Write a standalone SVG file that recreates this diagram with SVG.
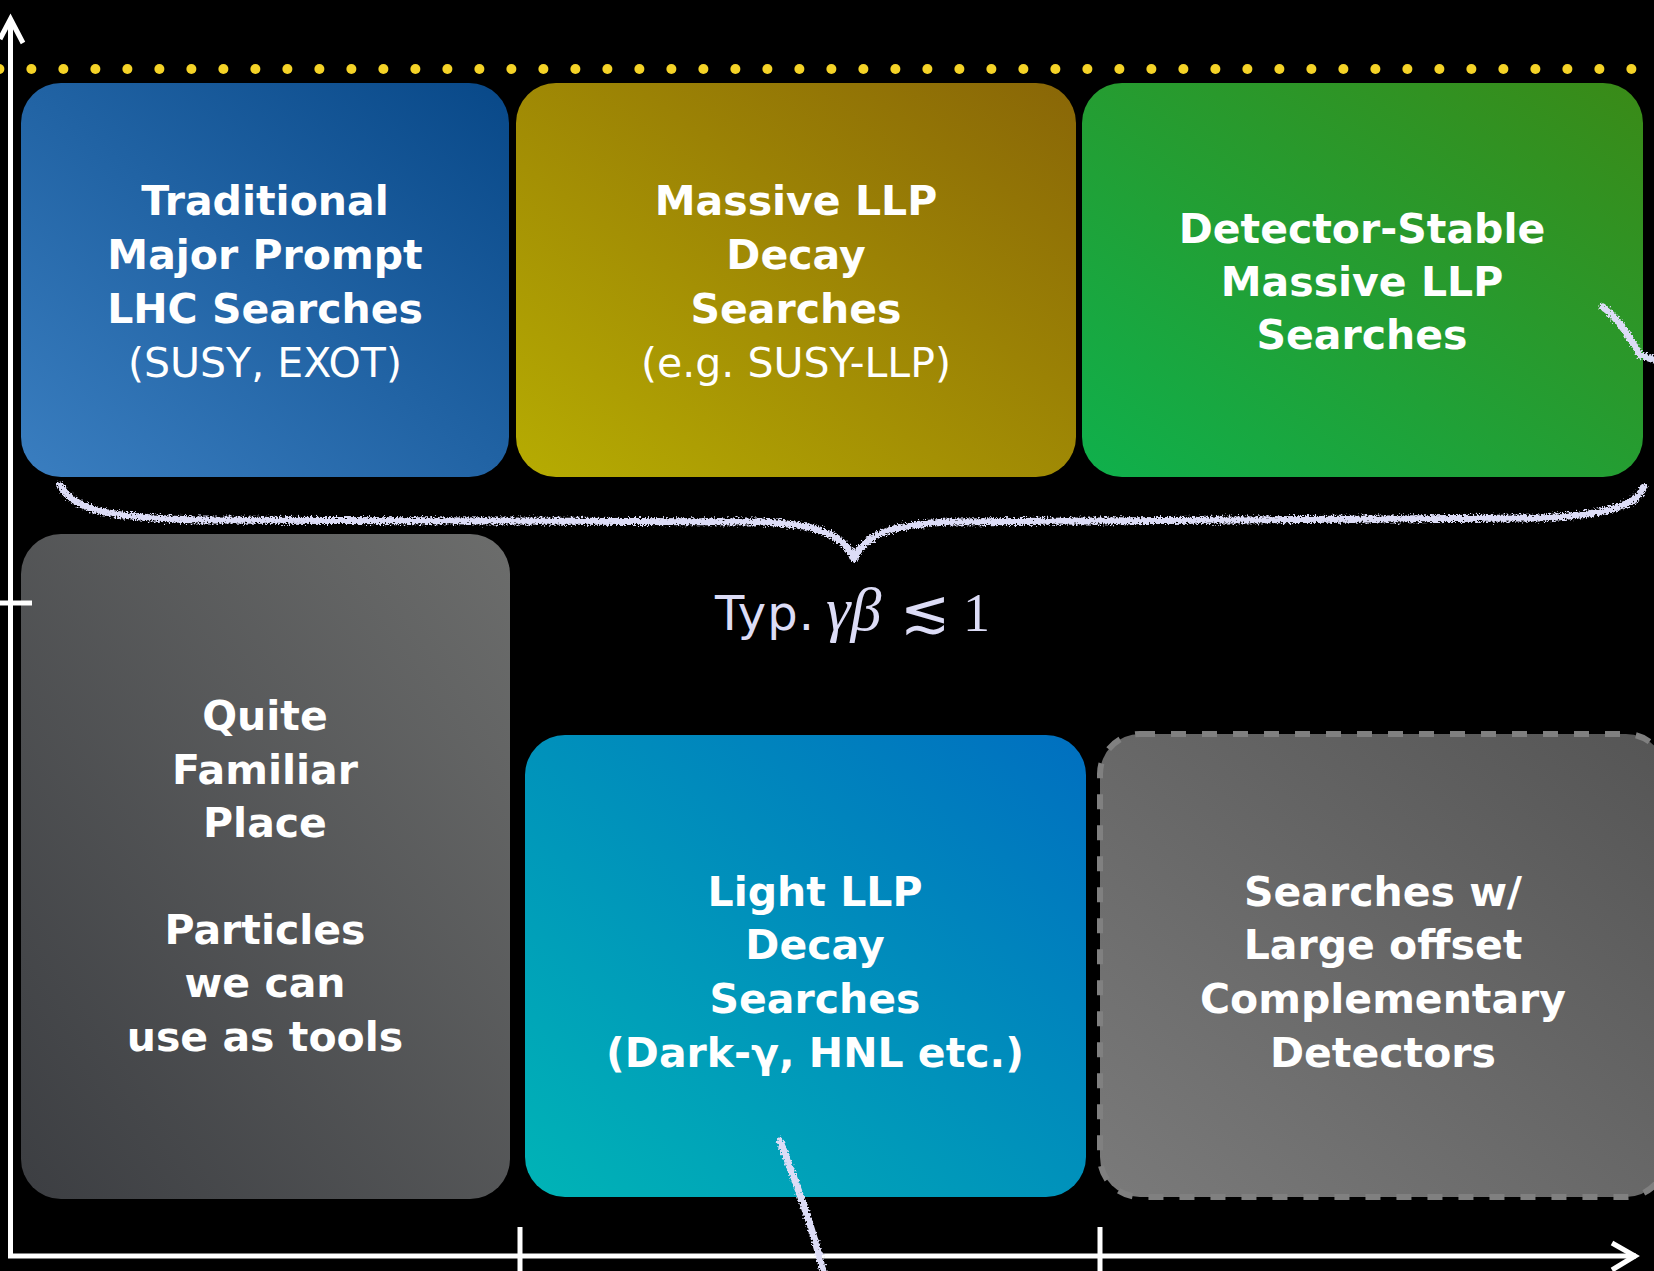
<svg xmlns="http://www.w3.org/2000/svg" width="1654" height="1271" viewBox="0 0 1654 1271">
<defs>
<linearGradient id="g1" x1="0" y1="1" x2="1" y2="0"><stop offset="0" stop-color="#3a7ec0"/><stop offset="1" stop-color="#084888"/></linearGradient>
<linearGradient id="g2" x1="0" y1="1" x2="1" y2="0"><stop offset="0" stop-color="#b6ac02"/><stop offset="1" stop-color="#896607"/></linearGradient>
<linearGradient id="g3" x1="0" y1="1" x2="1" y2="0"><stop offset="0" stop-color="#0fb04c"/><stop offset="1" stop-color="#3a8a17"/></linearGradient>
<linearGradient id="g4" x1="0" y1="1" x2="1" y2="0"><stop offset="0" stop-color="#3c3e42"/><stop offset="1" stop-color="#6c6d6c"/></linearGradient>
<linearGradient id="g5" x1="0" y1="1" x2="1" y2="0"><stop offset="0" stop-color="#00b4b6"/><stop offset="1" stop-color="#006fc0"/></linearGradient>
<linearGradient id="g6" x1="0" y1="1" x2="1" y2="0"><stop offset="0" stop-color="#7a7a7a"/><stop offset="1" stop-color="#555555"/></linearGradient>
<filter id="rough" x="-5%" y="-50%" width="110%" height="200%">
<feTurbulence type="fractalNoise" baseFrequency="0.55" numOctaves="2" seed="3" result="n"/>
<feDisplacementMap in="SourceGraphic" in2="n" scale="8" xChannelSelector="R" yChannelSelector="G"/>
</filter>
<filter id="rough2" x="-50%" y="-10%" width="200%" height="120%">
<feTurbulence type="fractalNoise" baseFrequency="0.5" numOctaves="2" seed="7" result="n"/>
<feDisplacementMap in="SourceGraphic" in2="n" scale="7" xChannelSelector="R" yChannelSelector="G"/>
</filter>
<style>
.b{font-family:"DejaVu Sans",Verdana,sans-serif;font-weight:bold;font-size:41px;fill:#ffffff;text-anchor:middle}
.r{font-family:"DejaVu Sans",Verdana,sans-serif;font-weight:normal;font-size:41px;fill:#ffffff;text-anchor:middle}
.ax{stroke:#ffffff;stroke-width:5;fill:none}
.chalk{stroke:#dcdcf6;stroke-width:7;fill:none;stroke-linecap:round;stroke-linejoin:round}
.math{fill:#dcdcf6}
</style>
</defs>
<rect x="0" y="0" width="1654" height="1271" fill="#000000"/>

<g id="dots" fill="#f5d327">
<circle cx="-0.6" cy="69" r="5"/><circle cx="31.4" cy="69" r="5"/><circle cx="63.4" cy="69" r="5"/><circle cx="95.4" cy="69" r="5"/><circle cx="127.4" cy="69" r="5"/><circle cx="159.4" cy="69" r="5"/><circle cx="191.4" cy="69" r="5"/><circle cx="223.4" cy="69" r="5"/><circle cx="255.4" cy="69" r="5"/><circle cx="287.4" cy="69" r="5"/><circle cx="319.4" cy="69" r="5"/><circle cx="351.4" cy="69" r="5"/><circle cx="383.4" cy="69" r="5"/><circle cx="415.4" cy="69" r="5"/><circle cx="447.4" cy="69" r="5"/><circle cx="479.4" cy="69" r="5"/><circle cx="511.4" cy="69" r="5"/><circle cx="543.4" cy="69" r="5"/><circle cx="575.4" cy="69" r="5"/><circle cx="607.4" cy="69" r="5"/><circle cx="639.4" cy="69" r="5"/><circle cx="671.4" cy="69" r="5"/><circle cx="703.4" cy="69" r="5"/><circle cx="735.4" cy="69" r="5"/><circle cx="767.4" cy="69" r="5"/><circle cx="799.4" cy="69" r="5"/><circle cx="831.4" cy="69" r="5"/><circle cx="863.4" cy="69" r="5"/><circle cx="895.4" cy="69" r="5"/><circle cx="927.4" cy="69" r="5"/><circle cx="959.4" cy="69" r="5"/><circle cx="991.4" cy="69" r="5"/><circle cx="1023.4" cy="69" r="5"/><circle cx="1055.4" cy="69" r="5"/><circle cx="1087.4" cy="69" r="5"/><circle cx="1119.4" cy="69" r="5"/><circle cx="1151.4" cy="69" r="5"/><circle cx="1183.4" cy="69" r="5"/><circle cx="1215.4" cy="69" r="5"/><circle cx="1247.4" cy="69" r="5"/><circle cx="1279.4" cy="69" r="5"/><circle cx="1311.4" cy="69" r="5"/><circle cx="1343.4" cy="69" r="5"/><circle cx="1375.4" cy="69" r="5"/><circle cx="1407.4" cy="69" r="5"/><circle cx="1439.4" cy="69" r="5"/><circle cx="1471.4" cy="69" r="5"/><circle cx="1503.4" cy="69" r="5"/><circle cx="1535.4" cy="69" r="5"/><circle cx="1567.4" cy="69" r="5"/><circle cx="1599.4" cy="69" r="5"/><circle cx="1631.4" cy="69" r="5"/>
</g>

<g id="node-traditional">
<rect x="21" y="83" width="488" height="394" rx="40" fill="url(#g1)"/>
<text class="b" x="265" y="215">Traditional</text>
<text class="b" x="265" y="269">Major Prompt</text>
<text class="b" x="265" y="323">LHC Searches</text>
<text class="r" x="265" y="377">(SUSY, EXOT)</text>
</g>
<g id="node-massive-decay">
<rect x="516" y="83" width="560" height="394" rx="40" fill="url(#g2)"/>
<text class="b" x="796" y="215">Massive LLP</text>
<text class="b" x="796" y="269">Decay</text>
<text class="b" x="796" y="323">Searches</text>
<text class="r" x="796" y="377">(e.g. SUSY-LLP)</text>
</g>
<g id="node-detector-stable">
<rect x="1082" y="83" width="561" height="394" rx="40" fill="url(#g3)"/>
<text class="b" x="1362" y="243">Detector-Stable</text>
<text class="b" x="1362" y="296">Massive LLP</text>
<text class="b" x="1362" y="349">Searches</text>
</g>
<g id="node-familiar">
<rect x="21" y="534" width="489" height="665" rx="40" fill="url(#g4)"/>
<text class="b" x="265" y="730">Quite</text>
<text class="b" x="265" y="784">Familiar</text>
<text class="b" x="265" y="837">Place</text>
<text class="b" x="265" y="944">Particles</text>
<text class="b" x="265" y="997">we can</text>
<text class="b" x="265" y="1051">use as tools</text>
</g>
<g id="node-light-llp">
<rect x="525" y="735" width="561" height="462" rx="40" fill="url(#g5)"/>
<text class="b" x="815" y="906">Light LLP</text>
<text class="b" x="815" y="959">Decay</text>
<text class="b" x="815" y="1013">Searches</text>
<text class="b" x="815" y="1067">(Dark-γ, HNL etc.)</text>
</g>
<g id="node-large-offset">
<rect x="1100" y="734" width="566" height="463" rx="40" fill="url(#g6)" stroke="#808080" stroke-width="6" stroke-dasharray="15 16"/>
<text class="b" x="1383" y="906">Searches w/</text>
<text class="b" x="1383" y="959">Large offset</text>
<text class="b" x="1383" y="1013">Complementary</text>
<text class="b" x="1383" y="1067">Detectors</text>
</g>

<g id="axes">
<line class="ax" x1="10.5" y1="20" x2="10.5" y2="1256"/>
<polyline class="ax" points="0,39 10.5,19 23,43"/>
<line class="ax" x1="8" y1="1256" x2="1636" y2="1256"/>
<polyline class="ax" points="1612,1243 1635,1256 1612,1270"/>
<line class="ax" x1="0" y1="603" x2="32" y2="603"/>
<line class="ax" x1="520" y1="1227" x2="520" y2="1271"/>
<line class="ax" x1="1100" y1="1227" x2="1100" y2="1271"/>
</g>

<g id="connectors">
<path class="chalk" filter="url(#rough)" d="M60,485 C72,510 110,518 200,520 L760,522 C820,524 845,536 854,559 C864,536 890,524 950,522 L1540,518 C1610,515 1636,505 1644,487"/>
<path class="chalk" filter="url(#rough2)" d="M1603,307 C1618,318 1630,338 1640,355 L1654,360"/>
<path class="chalk" filter="url(#rough2)" d="M780,1141 C795,1180 812,1225 823,1271"/>
</g>

<g id="label-typ">
<text x="715" y="630" font-family="DejaVu Sans,sans-serif" font-size="48" letter-spacing="1" class="math">Typ.</text>
<text x="826" y="630" font-family="Liberation Serif,serif" font-style="italic" font-size="62" class="math">γβ</text>
<text x="900" y="632" font-family="DejaVu Serif,serif" font-size="60" class="math">≲</text>
<text x="963" y="631" font-family="Liberation Serif,serif" font-size="54" class="math">1</text>
</g>
</svg>
